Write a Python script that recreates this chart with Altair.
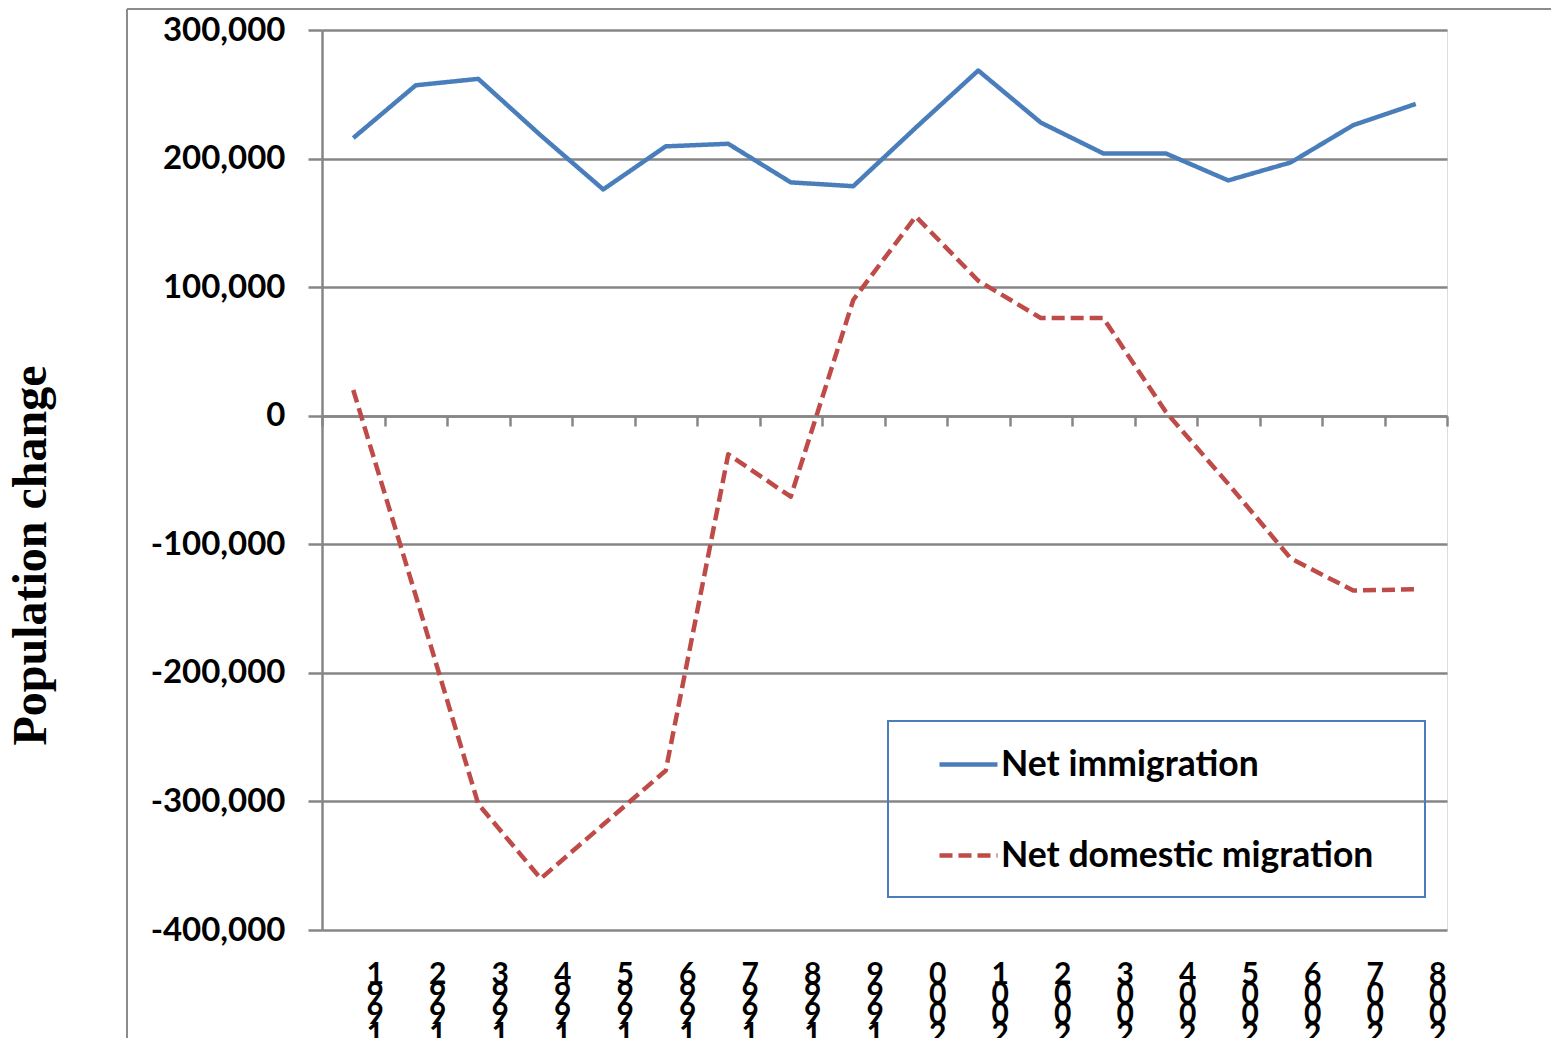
import altair as alt
import pandas as pd

years = ["1991", "1992", "1993", "1994", "1995", "1996", "1997", "1998", "1999",
         "2000", "2001", "2002", "2003", "2004", "2005", "2006", "2007", "2008"]
net_immigration = [216000, 257000, 262000, 218000, 176000, 209500, 211500, 181500, 178500,
                   224000, 268500, 228000, 204000, 204000, 183000, 197000, 226000, 242500]
net_domestic = [20000, -140000, -302000, -360000, -318000, -276000, -30000, -63000, 90000,
                155000, 105000, 76000, 76000, 3000, -53000, -111000, -136000, -135000]
series_names = ["Net immigration", "Net domestic migration"]
y_ticks = [-400000, -300000, -200000, -100000, 0, 100000, 200000, 300000]

rows = []
for i, y in enumerate(years):
    rows.append({"year": y, "series": series_names[0], "value": net_immigration[i]})
    rows.append({"year": y, "series": series_names[1], "value": net_domestic[i]})
df = pd.DataFrame(rows)

# x tick labels: the year's digits stacked, last digit on top (as in the source chart)
labels_df = pd.DataFrame({"year": years, "stacked": ["\n".join(reversed(y)) for y in years]})

GRID = "#868686"
BLUE = "#4a7ebb"
RED = "#be4b48"

legend = alt.Legend(
    title=None, orient="none", legendX=615, legendY=703, padding=0,
    symbolType="stroke", symbolSize=3364, symbolStrokeWidth=4.5,
    labelFont="Lato", labelFontSize=35.5, labelFontWeight="bold", labelColor="black",
    labelOffset=1, rowPadding=41, labelLimit=700,
)

x_scale = alt.Scale(type="band", paddingInner=0, paddingOuter=0, domain=years)

x_enc = alt.X(
    "year:O", sort=years, scale=x_scale,
    axis=alt.Axis(
        title=None, offset=-514, grid=False, labels=False,
        domainColor=GRID, domainWidth=2.5,
        tickColor=GRID, tickWidth=2.5, tickSize=10, tickBand="extent",
    ),
)

y_enc = alt.Y(
    "value:Q",
    scale=alt.Scale(domain=[-400000, 300000], nice=False, zero=False),
    axis=alt.Axis(
        values=y_ticks,
        labelExpr="replace(format(datum.value, ','), '\u2212', '-')",
        labelFont="Lato", labelFontSize=33, labelFontWeight="bold", labelColor="black",
        labelPadding=23,
        grid=True, gridColor=GRID, gridWidth=2.5,
        domainColor=GRID, domainWidth=2.5,
        tickColor=GRID, tickWidth=2.5, tickSize=14,
        title="Population change", titleFont="Liberation Serif", titleFontSize=48,
        titleFontWeight="bold", titleColor="black", titleAngle=270,
        titleX=-277, titleY=525, titleAlign="center", titleBaseline="alphabetic",
    ),
)

lines = alt.Chart(df).mark_line(strokeWidth=4.5, strokeJoin="round").encode(
    x=x_enc,
    y=y_enc,
    color=alt.Color("series:N", sort=series_names,
                    scale=alt.Scale(domain=series_names, range=[BLUE, RED]),
                    legend=legend),
    strokeDash=alt.StrokeDash("series:N", sort=series_names,
                              scale=alt.Scale(domain=series_names, range=[[1, 0], [13, 6]]),
                              legend=legend),
)

year_labels = alt.Chart(labels_df).mark_text(
    dx=22, align="center", baseline="top", lineBreak="\n", lineHeight=20,
    font="Lato", fontSize=30, fontWeight="bold", color="black",
).encode(
    x=alt.X("year:O", sort=years, scale=x_scale),
    y=alt.value(930),
    text="stacked:N",
)

dec = pd.DataFrame({"k": [0]})
border_top = alt.Chart(dec).mark_rule(color="#8c8c8c", strokeWidth=2).encode(
    x=alt.value(-195), x2=alt.value(1229), y=alt.value(-21))
border_left = alt.Chart(dec).mark_rule(color="#8c8c8c", strokeWidth=2).encode(
    x=alt.value(-195), y=alt.value(-21), y2=alt.value(1010))
legend_box = alt.Chart(dec).mark_rect(filled=False, stroke=BLUE, strokeWidth=2).encode(
    x=alt.value(566), x2=alt.value(1103), y=alt.value(691), y2=alt.value(867))

chart = alt.layer(border_top, border_left, lines, year_labels, legend_box).properties(
    width=1125, height=900,
    autosize=alt.AutoSizeParams(type="none"),
    padding={"left": 314, "top": 22, "right": 104, "bottom": 108},
).configure_view(strokeWidth=0).configure(font="Lato")

chart.save("out.html", embed_options={"renderer": "svg", "actions": False})
